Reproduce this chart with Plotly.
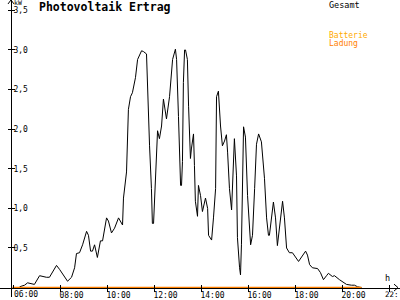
import plotly.graph_objects as go

# ---- data ----
hours = [6.26, 6.47, 6.60, 6.77, 6.89, 7.11, 7.23, 7.40, 7.53, 7.83, 7.96, 8.17, 8.30, 8.47, 8.60,
         8.68, 8.81, 8.94, 9.11, 9.19, 9.28, 9.36, 9.45, 9.57, 9.70, 9.79, 9.87, 9.96, 10.04, 10.17,
         10.30, 10.47, 10.64, 10.68, 10.81, 10.89, 10.98, 11.06, 11.19, 11.28, 11.45, 11.53, 11.66,
         11.70, 11.79, 11.87, 11.91, 11.96, 12.04, 12.13, 12.21, 12.30, 12.38, 12.51, 12.64, 12.77,
         12.89, 12.94, 13.02, 13.06, 13.11, 13.15, 13.19, 13.23, 13.28, 13.32, 13.40, 13.45, 13.49,
         13.53, 13.57, 13.66, 13.70, 13.74, 13.83, 13.87, 13.96, 14.04, 14.17, 14.26, 14.30, 14.43,
         14.51, 14.60, 14.64, 14.72, 14.81, 14.89, 14.98, 15.06, 15.11, 15.19, 15.28, 15.32, 15.40,
         15.49, 15.53, 15.62, 15.66, 15.70, 15.79, 15.87, 15.96, 16.09, 16.17, 16.26, 16.34, 16.43,
         16.55, 16.68, 16.77, 16.85, 16.89, 17.06, 17.15, 17.23, 17.32, 17.45, 17.53, 17.62, 17.74,
         17.87, 18.13, 18.30, 18.43, 18.51, 18.60, 18.72, 18.94, 19.06, 19.19, 19.32, 19.40, 19.57,
         19.66, 19.87, 20.04, 20.17, 20.38, 20.51, 20.64, 20.81]
gesamt_kw = [0.01, 0.03, 0.06, 0.05, 0.04, 0.15, 0.14, 0.13, 0.13, 0.28, 0.23, 0.13, 0.08, 0.13, 0.25,
             0.43, 0.44, 0.54, 0.71, 0.66, 0.46, 0.46, 0.54, 0.38, 0.59, 0.59, 0.71, 0.88, 0.84, 0.69,
             0.75, 0.88, 0.79, 1.13, 1.46, 2.25, 2.41, 2.46, 2.65, 2.88, 2.99, 2.98, 2.95,
             2.50, 1.79, 1.25, 0.81, 0.81, 1.46, 1.98, 1.88, 2.04, 2.38, 2.13, 2.41, 2.88,
             3.01, 2.88, 2.16, 1.59, 1.29, 1.29, 1.59, 2.59, 3.00, 3.00, 2.88, 2.29, 1.88,
             1.63, 1.75, 1.94, 1.54, 1.09, 0.90, 1.29, 1.16, 0.96, 1.13, 1.00, 0.66, 0.60,
             0.88, 1.25, 2.41, 2.48, 2.04, 1.79, 1.85, 1.93, 1.71, 1.25, 0.98, 1.38, 1.88,
             1.41, 0.63, 0.25, 0.16, 0.54, 2.03, 1.90, 1.16, 0.54, 0.66, 1.25, 1.81, 1.94,
             1.84, 1.38, 0.88, 0.66, 0.66, 1.08, 0.88, 0.53, 0.79, 1.09, 0.88, 0.50, 0.44,
             0.44, 0.33, 0.41, 0.46, 0.41, 0.29, 0.25, 0.24, 0.19, 0.10, 0.15, 0.18, 0.14,
             0.15, 0.10, 0.06, 0.04, 0.03, 0.03, 0.01, 0.00]
ladung_hours = [5.95, 20.81]
ladung_kw = [0.0, 0.0]

x_tick_vals = [6, 8, 10, 12, 14, 16, 18, 20, 22]
x_tick_text = ["", "08:00", "10:00", "12:00", "14:00", "16:00", "18:00", "20:00", ""]
first_x_label = "06:00"
last_x_label = "22:"
y_tick_vals = [0.5, 1.0, 1.5, 2.0, 2.5, 3.0, 3.5]
y_tick_text = ["0,5", "1,0", "1,5", "2,0", "2,5", "3,0", "3,5"]

X_RANGE = [5.4255, 22.447]
Y_RANGE = [-0.119, 3.631]

MONO = "DejaVu Sans Mono"
W, H = 400, 300

fig = go.Figure()
fig.add_trace(go.Scatter(x=hours, y=gesamt_kw, mode="lines",
                         line=dict(color="black", width=1), hoverinfo="skip"))
fig.add_trace(go.Scatter(x=ladung_hours, y=ladung_kw, mode="lines",
                         line=dict(color="#FF8000", width=1.5), hoverinfo="skip"))
# helper trace to materialise the overlay axes (inner tick halves)
fig.add_trace(go.Scatter(x=[None], y=[None], xaxis="x2", yaxis="y2", hoverinfo="skip"))

x_pos = (H - 290.5) / H
y_pos = 11 / W

common_x = dict(range=X_RANGE, showgrid=False, zeroline=False, fixedrange=True,
                tickvals=x_tick_vals)
common_y = dict(range=Y_RANGE, showgrid=False, zeroline=False, fixedrange=True,
                tickvals=y_tick_vals)

fig.update_layout(
    width=W, height=H,
    margin=dict(l=0, r=0, t=0, b=0, pad=0),
    paper_bgcolor="white", plot_bgcolor="white",
    showlegend=False,
    xaxis=dict(**common_x, anchor="free", position=x_pos, showline=True, linecolor="black",
               linewidth=1, ticks="outside", ticklen=3, tickcolor="black", tickwidth=1,
               ticktext=x_tick_text, ticklabelshift=11, ticklabelstandoff=-3,
               ticklabeloverflow="allow",
               tickfont=dict(family=MONO, size=8, color="black")),
    yaxis=dict(**common_y, anchor="free", position=y_pos, showline=True, linecolor="black",
               linewidth=1, ticks="outside", ticklen=3, tickcolor="black", tickwidth=1,
               ticktext=y_tick_text, ticklabelposition="inside",
               tickfont=dict(family=MONO, size=8, color="black")),
    xaxis2=dict(**common_x, overlaying="x", anchor="free", position=x_pos, showline=False,
                ticks="inside", ticklen=3, tickcolor="black", tickwidth=1, showticklabels=False),
    yaxis2=dict(**common_y, overlaying="y", anchor="free", position=y_pos, showline=False,
                ticks="inside", ticklen=3, tickcolor="black", tickwidth=1, showticklabels=False),
)

def px(xp, yp):
    return xp / W, 1 - yp / H

annots = [
    ("<b>Photovoltaik Ertrag</b>", 38, 7, 11.5, "black"),
    ("kW", 13, 3, 6.5, "black"),
    ("Gesamt", 328, 5, 8.5, "black"),
    ("Batterie", 328, 35.5, 8, "#FFAA00"),
    ("Ladung", 328, 44, 8, "#FF8000"),
    ("h", 384, 281, 8.5, "black"),
]
for text, xp, yp, size, color in annots:
    ax, ay = px(xp, yp)
    fig.add_annotation(text=text, x=ax, y=ay, xref="paper", yref="paper", showarrow=False,
                       xanchor="left", yanchor="middle",
                       font=dict(family=MONO, size=size, color=color), borderpad=0)

# first and last x labels placed explicitly (edge labels)
label_y = px(0, 297.5)[1]
fig.add_annotation(text=first_x_label, x=x_tick_vals[0], xref="x", y=label_y, yref="paper",
                   showarrow=False, xanchor="left", yanchor="middle", xshift=-1,
                   font=dict(family=MONO, size=8, color="black"), borderpad=0)
fig.add_annotation(text=last_x_label, x=1.0, xref="paper", y=label_y, yref="paper",
                   showarrow=False, xanchor="right", yanchor="middle",
                   font=dict(family=MONO, size=7.5, color="black"), borderpad=0)

# axis arrow heads
x1, y1 = px(8, 4); x2, y2 = px(11, 0); x3, y3 = px(14, 4)
fig.add_shape(type="path", xref="paper", yref="paper",
              path=f"M {x1},{y1} L {x2},{y2} L {x3},{y3}", line=dict(color="black", width=1))
x1, y1 = px(394, 287); x2, y2 = px(398, 290.5); x3, y3 = px(394, 294)
fig.add_shape(type="path", xref="paper", yref="paper",
              path=f"M {x1},{y1} L {x2},{y2} L {x3},{y3}", line=dict(color="black", width=1))

fig.write_html("out.html")
